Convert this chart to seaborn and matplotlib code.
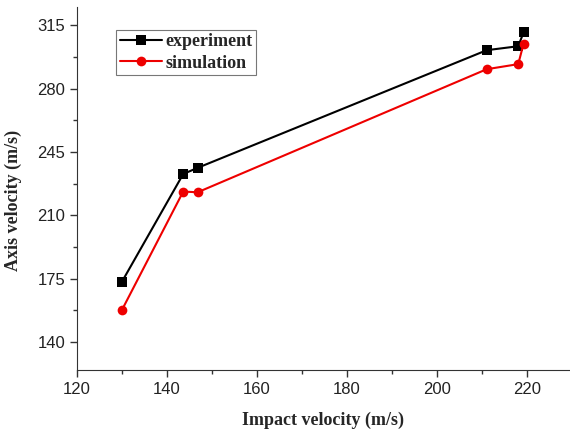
import pandas as pd
import seaborn as sns
import matplotlib.pyplot as plt
from matplotlib.ticker import MultipleLocator

impact = [130, 143.6, 146.8, 211, 218, 219.2]
experiment = [173.3, 232.8, 236.2, 301.2, 303.4, 311.1]
simulation = [157.7, 223.1, 222.7, 290.7, 293.5, 304.9]

df = pd.DataFrame({
    'impact': impact * 2,
    'axis': experiment + simulation,
    'series': ['experiment'] * len(impact) + ['simulation'] * len(impact),
})

sns.set_style('ticks')
plt.rcParams['font.family'] = ['Liberation Sans', 'DejaVu Sans']

fig = plt.figure(figsize=(5.7, 4.32), dpi=100)
ax = fig.add_axes([0.135, 0.1435, 0.865, 0.84])

sns.lineplot(data=df, x='impact', y='axis', hue='series', style='series',
             palette={'experiment': 'black', 'simulation': '#ee0000'},
             markers={'experiment': 's', 'simulation': 'o'},
             dashes=False, estimator=None, sort=False,
             linewidth=1.5, markersize=7, markeredgewidth=0, ax=ax)

ax.set_xlim(120, 229.5)
ax.set_ylim(124.5, 325)
ax.xaxis.set_major_locator(MultipleLocator(20))
ax.xaxis.set_minor_locator(MultipleLocator(10))
ax.set_yticks([140, 175, 210, 245, 280, 315])
ax.yaxis.set_minor_locator(MultipleLocator(17.5))
ax.tick_params(which='major', length=5, width=1, labelsize=12, color='#333333', labelcolor='#222222')
ax.tick_params(which='minor', length=3, width=1, color='#333333')
for s in ['left', 'bottom']:
    ax.spines[s].set_color('#333333')
sns.despine(ax=ax)

ax.set_xlabel('Impact velocity (m/s)', fontfamily='Liberation Serif', fontweight='bold', fontsize=13)
ax.set_ylabel('Axis velocity (m/s)', fontfamily='Liberation Serif', fontweight='bold', fontsize=13)
ax.xaxis.set_label_coords(0.5, -0.115)
ax.yaxis.set_label_coords(-0.112, 0.468)

leg = ax.legend(loc='upper left', bbox_to_anchor=(0.08, 0.938), frameon=True, fancybox=False,
                edgecolor='#555555', handlelength=2.3, handletextpad=0.2, borderpad=0.2,
                borderaxespad=0, labelspacing=0.25,
                prop={'family': 'Liberation Serif', 'weight': 'bold', 'size': 13})
leg.get_frame().set_linewidth(0.8)

fig.savefig('out.png', dpi=100)
